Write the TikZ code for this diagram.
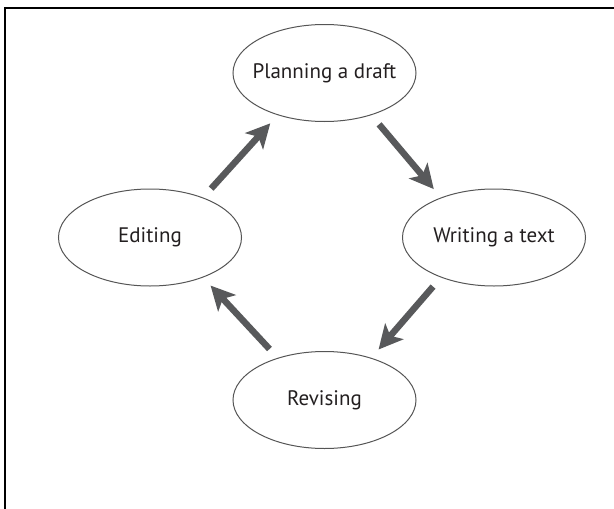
\documentclass[tikz,border=0pt]{standalone}
\usepackage{fontspec}
\setmainfont{PT Sans}
\usepackage{tikz}
\usetikzlibrary{shapes.geometric}
\usetikzlibrary{arrows.meta}

\definecolor{arrowgray}{RGB}{88,89,91}
\definecolor{rimgray}{RGB}{85,85,85}
\definecolor{inkblack}{RGB}{35,31,32}

\tikzset{
  stage/.style={draw=rimgray,line width=1pt,ellipse,inner ysep=0pt,inner xsep=-16pt,
    minimum width=183pt,minimum height=97pt,text=inkblack,font=\fontsize{21}{24}\selectfont},
  cyclearrow/.style={draw=arrowgray,line width=6.5pt,
    -{Stealth[length=24pt,width=24pt,inset=6pt]},shorten <=12pt,shorten >=11pt}
}

\begin{document}
\begin{tikzpicture}[x=1pt,y=-1pt]
    \useasboundingbox (0,0) rectangle (614,509);
    \draw[line width=2pt] (5,509) -- (5,7.5) -- (614,7.5);
    \node[stage] (plan) at (324.5,73) {Planning a draft};
    \node[stage] (edit) at (150,237.5) {Editing};
    \node[stage] (write) at (494,237.5) {Writing a text};
    \node[stage] (rev) at (324.5,400) {Revising};
    \draw[cyclearrow] (edit.37) to (plan.222);
    \draw[cyclearrow] (plan.318) to (write.143);
    \draw[cyclearrow] (write.217) to (rev.42);
    \draw[cyclearrow] (rev.138) to (edit.323);
  \end{tikzpicture}
\end{document}
